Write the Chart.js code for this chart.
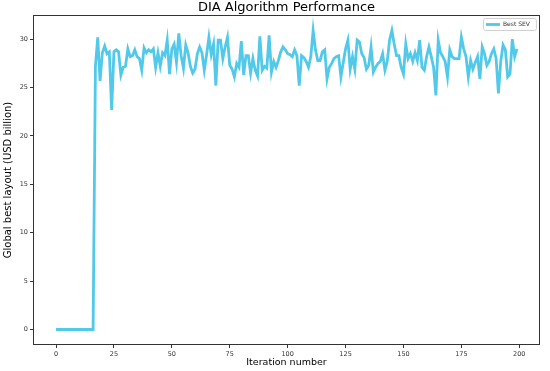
<!DOCTYPE html>
<html lang="en">
<head>
<meta charset="UTF-8">
<title>DIA Algorithm Performance</title>
<script src="https://cdn.jsdelivr.net/npm/chart.js"></script>
<style>
  body { margin: 0; background: #fff; }
</style>
</head>
<body>
<canvas id="chart" width="550" height="371"></canvas>
<script>
// Chart texts
const chartTitle = 'DIA Algorithm Performance';
const xAxisTitle = 'Iteration number';
const yAxisTitle = 'Global best layout (USD billion)';
const seriesLabel = 'Best SEV';

// Tick labels
const xTicks = [0, 25, 50, 75, 100, 125, 150, 175, 200];
const yTicks = [0, 5, 10, 15, 20, 25, 30];

// Best SEV per iteration
const bestSev = [
  0, 0, 0, 0, 0, 0, 0, 0, 0, 0, 0, 0, 0, 0, 0, 0, 0,
  27.2, 30.2, 25.7, 28.6, 29.3, 28.5, 28.7, 22.7, 28.7, 28.9,
  28.7, 26.3, 27.1, 27.2, 29.0, 28.2, 28.3, 28.9, 28.2, 28.0,
  26.8, 29.1, 28.6, 28.9, 28.7, 29.0, 27.1, 28.6, 27.2, 28.6,
  28.3, 29.9, 26.4, 29.0, 29.5, 27.6, 30.6, 28.3, 27.0, 29.4,
  28.6, 27.2, 26.5, 26.9, 28.5, 29.2, 28.6, 26.8, 28.4, 30.2,
  28.4, 29.5, 25.2, 29.9, 29.9, 28.0, 29.2, 30.2, 27.3, 26.9,
  26.1, 27.5, 27.1, 29.8, 26.3, 28.3, 28.3, 26.5, 28.0, 26.8,
  26.2, 30.3, 26.8, 27.2, 27.0, 30.4, 26.6, 27.7, 27.1, 27.8,
  28.7, 29.2, 28.9, 28.5, 28.4, 28.2, 28.9, 28.3, 25.2, 28.3,
  28.1, 27.7, 27.1, 28.2, 30.9, 28.9, 27.8, 27.8, 28.7, 28.9,
  25.9, 27.1, 27.5, 28.0, 28.2, 28.3, 26.1, 27.6, 29.0, 29.9,
  26.9, 28.2, 26.9, 29.9, 29.7, 28.5, 28.1, 26.9, 27.3, 29.2,
  26.6, 27.1, 27.5, 27.7, 28.5, 26.8, 27.7, 29.9, 30.9, 29.5,
  28.3, 28.3, 27.1, 26.4, 29.5, 28.0, 28.5, 27.7, 28.6, 27.8,
  29.9, 27.1, 26.8, 28.2, 29.2, 28.2, 27.1, 24.2, 29.9, 28.6,
  28.2, 27.7, 26.1, 28.9, 28.2, 28.0, 28.0, 28.0, 30.2, 29.0,
  28.2, 26.1, 27.8, 26.9, 27.6, 28.2, 25.9, 29.2, 28.5, 27.3,
  27.7, 28.5, 29.0, 28.0, 24.4, 27.7, 29.4, 28.9, 26.1, 26.4,
  30.0, 28.2, 29.0
];
const iterations = bestSev.map((_, i) => i);

const lineColor = '#52c9e9';
const inkColor = '#333333';
const fontFamily = '"DejaVu Sans", sans-serif';

// Top and right spines like matplotlib
const frame = {
  id: 'frame',
  afterDraw(chart) {
    const { ctx, chartArea: a } = chart;
    ctx.save();
    ctx.strokeStyle = inkColor;
    ctx.lineWidth = 1;
    ctx.strokeRect(a.left + 0.5, a.top + 0.5, a.right - a.left - 1, a.bottom - a.top - 1);
    ctx.restore();
  }
};

// Small legend box inside the top right corner
const legendBox = {
  id: 'legendBox',
  afterDraw(chart) {
    const { ctx, chartArea: a } = chart;
    const ds = chart.data.datasets[0];
    ctx.save();
    ctx.font = '6px ' + fontFamily;
    const tw = ctx.measureText(ds.label).width;
    const w = tw + 26, h = 12;
    const x = Math.round(a.right - 4 - w), y = Math.round(a.top + 3);
    ctx.fillStyle = 'rgba(255,255,255,0.8)';
    ctx.strokeStyle = '#d0d0d0';
    ctx.lineWidth = 1;
    ctx.beginPath();
    ctx.roundRect(x + 0.5, y + 0.5, w, h, 2);
    ctx.fill();
    ctx.stroke();
    ctx.strokeStyle = ds.borderColor;
    ctx.lineWidth = ds.borderWidth;
    ctx.beginPath();
    ctx.moveTo(x + 3, y + h / 2 + 0.5);
    ctx.lineTo(x + 17, y + h / 2 + 0.5);
    ctx.stroke();
    ctx.fillStyle = inkColor;
    ctx.textBaseline = 'middle';
    ctx.fillText(ds.label, x + 20, y + h / 2 + 0.5);
    ctx.restore();
  }
};

new Chart(document.getElementById('chart'), {
  type: 'line',
  data: {
    datasets: [{
      label: seriesLabel,
      data: bestSev.map((v, i) => ({ x: iterations[i], y: v })),
      borderColor: lineColor,
      borderWidth: 2.8,
      pointRadius: 0,
      tension: 0,
      fill: false
    }]
  },
  options: {
    responsive: false,
    animation: false,
    devicePixelRatio: 1,
    layout: { padding: { left: 0, right: 10, top: 0, bottom: 0 } },
    plugins: {
      legend: { display: false },
      tooltip: { enabled: false },
      title: {
        display: true,
        text: chartTitle,
        fullSize: false,
        color: '#000',
        font: { family: fontFamily, size: 13, weight: 'normal', lineHeight: 1 },
        padding: { top: 1.5, bottom: 0.5 }
      }
    },
    scales: {
      x: {
        type: 'linear',
        min: -9.95,
        max: 208.95,
        afterBuildTicks: axis => { axis.ticks = xTicks.map(v => ({ value: v })); },
        afterFit: scale => { scale.height = 26; },
        border: { display: false },
        grid: { drawOnChartArea: false, drawTicks: true, tickLength: 3, color: inkColor },
        ticks: { color: inkColor, padding: 2, maxRotation: 0, font: { family: fontFamily, size: 6.5 } },
        title: {
          display: true,
          text: xAxisTitle,
          color: '#000',
          font: { family: fontFamily, size: 9.5 },
          padding: { top: 0, bottom: 3 }
        }
      },
      y: {
        min: -1.6,
        max: 32.5,
        afterBuildTicks: axis => { axis.ticks = yTicks.map(v => ({ value: v })); },
        afterFit: scale => { scale.width = 33; },
        border: { display: false },
        grid: { drawOnChartArea: false, drawTicks: true, tickLength: 3, color: inkColor },
        ticks: { color: inkColor, padding: 2, font: { family: fontFamily, size: 6.5 } },
        title: {
          display: true,
          text: yAxisTitle,
          color: '#000',
          font: { family: fontFamily, size: 10 },
          padding: { top: 2, bottom: 0 }
        }
      }
    }
  },
  plugins: [frame, legendBox]
});
</script>
</body>
</html>
